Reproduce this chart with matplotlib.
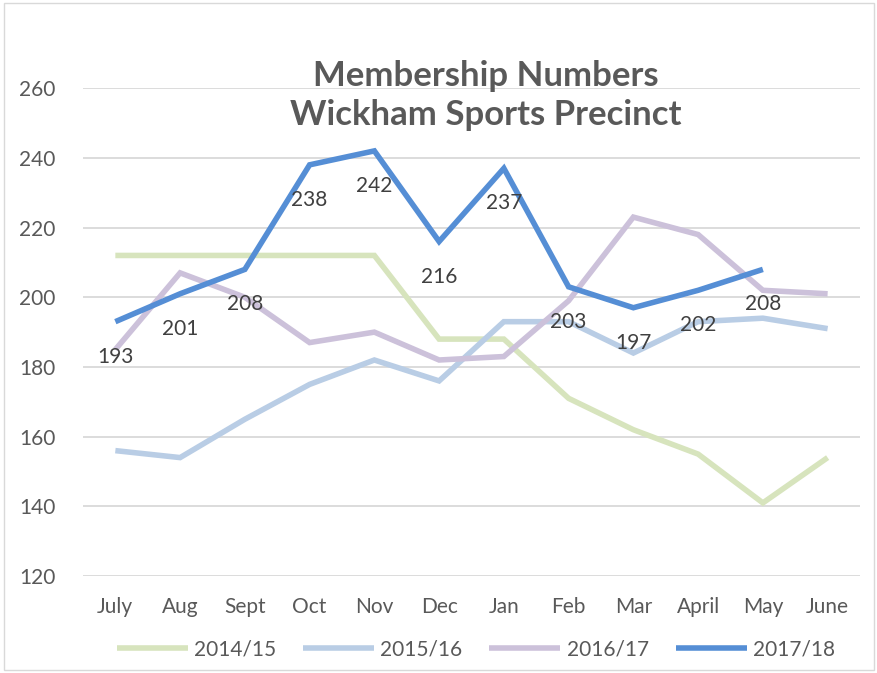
import matplotlib
matplotlib.use("Agg")
import matplotlib.pyplot as plt
from matplotlib.patches import Rectangle

plt.rcParams['font.family'] = ['Lato', 'DejaVu Sans']

months = ["July", "Aug", "Sept", "Oct", "Nov", "Dec", "Jan", "Feb", "Mar", "April", "May", "June"]
s1415 = [212, 212, 212, 212, 212, 188, 188, 171, 162, 155, 141, 154]
s1516 = [156, 154, 165, 175, 182, 176, 193, 193, 184, 193, 194, 191]
s1617 = [185, 207, 200, 187, 190, 182, 183, 199, 223, 218, 202, 201]
s1718 = [193, 201, 208, 238, 242, 216, 237, 203, 197, 202, 208]
series_names = ["2014/15", "2015/16", "2016/17", "2017/18"]
colors = ["#D7E4BD", "#B9CDE5", "#CCC1DA", "#558ED5"]
yticks = [120, 140, 160, 180, 200, 220, 240, 260]

fig = plt.figure(figsize=(8.78, 6.73), dpi=100)
ax = fig.add_axes([0.0945, 0.144, 0.885, 0.725])
fig.patches.append(Rectangle((0.004, 0.004), 0.992, 0.992, transform=fig.transFigure,
                             fill=False, edgecolor="#D9D9D9", linewidth=1))

x = list(range(len(months)))
for vals, name, c in zip([s1415, s1516, s1617, s1718], series_names, colors):
    ax.plot(x[:len(vals)], vals, color=c, linewidth=4.0, label=name,
            solid_capstyle='butt', solid_joinstyle='miter', zorder=3)

for xi, v in zip(x, s1718):
    ax.annotate(str(v), (xi, v), xytext=(0, -18), textcoords='offset points',
                ha='center', va='top', fontsize=15, color="#404040", zorder=4)

ax.set_xlim(-0.5, len(months) - 0.5)
ax.set_ylim(120, 260)
ax.set_yticks(yticks)
ax.set_xticks(x)
ax.set_xticklabels(months)
ax.grid(axis='y', color="#D9D9D9", linewidth=1.3)
ax.set_axisbelow(True)
for sp in ax.spines.values():
    sp.set_visible(False)
ax.tick_params(axis='both', length=0, labelsize=15, labelcolor="#595959")
ax.tick_params(axis='x', pad=15)
ax.tick_params(axis='y', pad=20)

fig.text(0.553, 0.858, "Membership Numbers\nWickham Sports Precinct", ha='center', va='center',
         fontsize=25, fontweight='bold', color="#595959", linespacing=1.3)

leg = fig.legend(loc='center', bbox_to_anchor=(0.542, 0.035), ncol=4, frameon=False,
                 fontsize=15, handlelength=3.4, columnspacing=1.3, handletextpad=0.3)
for t in leg.get_texts():
    t.set_color("#595959")

fig.savefig("out.png", dpi=100)
